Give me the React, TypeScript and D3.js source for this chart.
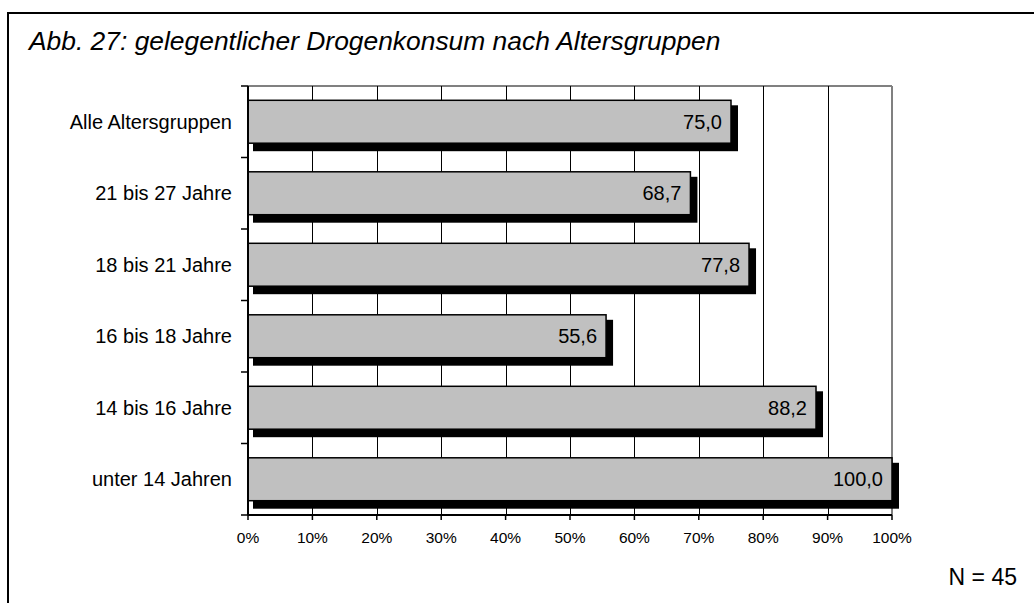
import React from "react";
import * as d3 from "d3";

const categories = [
  "Alle Altersgruppen",
  "21 bis 27 Jahre",
  "18 bis 21 Jahre",
  "16 bis 18 Jahre",
  "14 bis 16 Jahre",
  "unter 14 Jahren",
];
const values = [75.0, 68.7, 77.8, 55.6, 88.2, 100.0];
const xTicks = [0, 10, 20, 30, 40, 50, 60, 70, 80, 90, 100];
const title = "Abb. 27: gelegentlicher Drogenkonsum nach Altersgruppen";
const note = "N = 45";

const W = 1034;
const H = 603;
const left = 248;
const right = 892;
const top = 86;
const bottom = 515;
const font = "'Liberation Sans', Arial, sans-serif";

export default function App() {
  const x = d3.scaleLinear().domain([0, 100]).range([left, right]);
  const y = d3
    .scaleBand<string>()
    .domain(categories)
    .range([top, bottom])
    .paddingInner(0.4)
    .paddingOuter(0.2);
  const step = y.step();
  const fmt = (v: number) => d3.format(".1f")(v).replace(".", ",");
  const catBounds = d3.range(categories.length + 1).map((i) => top + i * step);

  return (
    <svg
      width={W}
      height={H}
      style={{ position: "absolute", left: 0, top: 0, background: "#fff" }}
      fontFamily={font}
    >
      <rect x={0} y={0} width={W} height={H} fill="#fff" />
      <rect x={8} y={13} width={1200} height={800} fill="none" stroke="#000" strokeWidth={2} />
      <text x={29} y={50} fontSize={26.4} fontStyle="italic" fill="#000">
        {title}
      </text>

      {/* plot border top/right */}
      <line x1={left} x2={right} y1={top} y2={top} stroke="#808080" strokeWidth={2} />
      <line x1={right} x2={right} y1={top} y2={bottom} stroke="#808080" strokeWidth={2} />

      {/* gridlines */}
      {xTicks.slice(1, -1).map((t) => (
        <line key={t} x1={Math.round(x(t)) + 0.5} x2={Math.round(x(t)) + 0.5} y1={top} y2={bottom} stroke="#000" strokeWidth={1} />
      ))}

      {/* bars */}
      {categories.map((c, i) => {
        const y0 = y(c)!;
        const bw = y.bandwidth();
        const x1 = x(values[i]);
        return (
          <g key={c}>
            <rect x={left + 5} y={y0 + 5} width={x1 - left + 2} height={bw + 3} fill="#000" />
            <rect x={left} y={y0} width={x1 - left} height={bw} fill="#c0c0c0" stroke="#000" strokeWidth={1.5} />
            <text
              x={x1 - 9}
              y={y0 + bw / 2 + 7}
              fontSize={20}
              textAnchor="end"
              fill="#000"
            >
              {fmt(values[i])}
            </text>
            <text x={232} y={y0 + bw / 2 + 7} fontSize={20} textAnchor="end" fill="#000">
              {c}
            </text>
          </g>
        );
      })}

      {/* axes */}
      <line x1={left} x2={left} y1={top} y2={bottom} stroke="#000" strokeWidth={2} />
      <line x1={left} x2={right} y1={bottom} y2={bottom} stroke="#000" strokeWidth={2} />
      {catBounds.map((b, i) => (
        <line key={i} x1={241} x2={left} y1={b} y2={b} stroke="#000" strokeWidth={1.5} />
      ))}
      {xTicks.map((t) => (
        <g key={t}>
          <line x1={x(t)} x2={x(t)} y1={bottom} y2={bottom + 5} stroke="#000" strokeWidth={1.5} />
          <text x={x(t)} y={543} fontSize={15.5} textAnchor="middle" fill="#000">
            {t + "%"}
          </text>
        </g>
      ))}

      <text x={1017} y={585} fontSize={23} textAnchor="end" fill="#000">
        {note}
      </text>
    </svg>
  );
}
